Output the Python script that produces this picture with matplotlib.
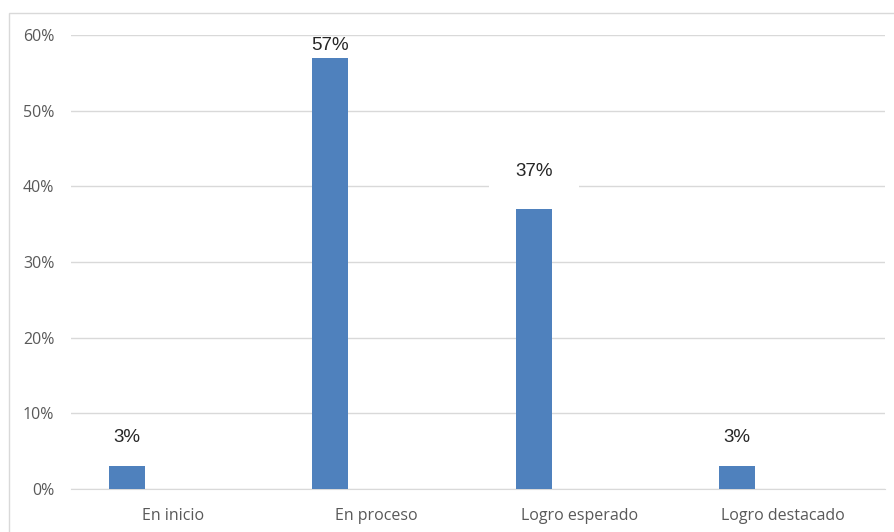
import matplotlib
matplotlib.use("Agg")
import matplotlib.pyplot as plt
from matplotlib.patches import Rectangle

categorias = ["En inicio", "En proceso", "Logro esperado", "Logro destacado"]
porcentajes = [3, 57, 37, 3]
etiquetas = ["3%", "57%", "37%", "3%"]
# separacion de cada etiqueta sobre su barra (puntos)
sep_etiqueta = [14.5, 2.5, 21, 14.5]
yticks = [0, 10, 20, 30, 40, 50, 60]

W, H = 895, 532
fig = plt.figure(figsize=(W / 100.0, H / 100.0), dpi=100)
fig.patch.set_facecolor("white")

# marco del grafico
fig.patches.append(Rectangle((9.0 / W, -0.1), 1.2, 1 - 13.0 / H + 0.1,
                             transform=fig.transFigure, fill=False,
                             edgecolor="#d9d9d9", linewidth=1.0))

ax = fig.add_axes([71.0 / W, (H - 489.0) / H, (885.0 - 71.0) / W, (489.0 - 35.0) / H])

x = list(range(len(categorias)))
ancho = 0.177
desp = -0.226
xb = [i + desp for i in x]
ax.bar(xb, porcentajes, width=ancho, color="#4f81bd", zorder=3)

for i in range(len(porcentajes)):
    ax.annotate(etiquetas[i], (xb[i], porcentajes[i]), xytext=(0, sep_etiqueta[i]),
                textcoords="offset points", ha="center", va="bottom",
                fontsize=13.5, color="#262626", family="Liberation Sans", zorder=5,
                bbox=dict(boxstyle="square,pad=1.4", facecolor="white", edgecolor="none")
                if i == 2 else None)

ax.set_xlim(-0.5, len(categorias) - 0.5)
ax.set_ylim(0, 60)
ax.set_yticks(yticks)
ax.set_yticklabels([str(v) + "%" for v in yticks])
ax.set_xticks(x)
ax.set_xticklabels(categorias)
ax.yaxis.grid(True, color="#d9d9d9", linewidth=1.0, zorder=0)
ax.set_axisbelow(True)
for s in ["top", "right", "left"]:
    ax.spines[s].set_visible(False)
ax.spines["bottom"].set_color("#d9d9d9")
ax.tick_params(axis="both", length=0, labelsize=11.5, labelcolor="#595959")
ax.tick_params(axis="y", pad=12)
ax.tick_params(axis="x", pad=14)
for t in ax.get_xticklabels() + ax.get_yticklabels():
    t.set_family("Open Sans")

fig.savefig("out.png", dpi=100, facecolor="white")
